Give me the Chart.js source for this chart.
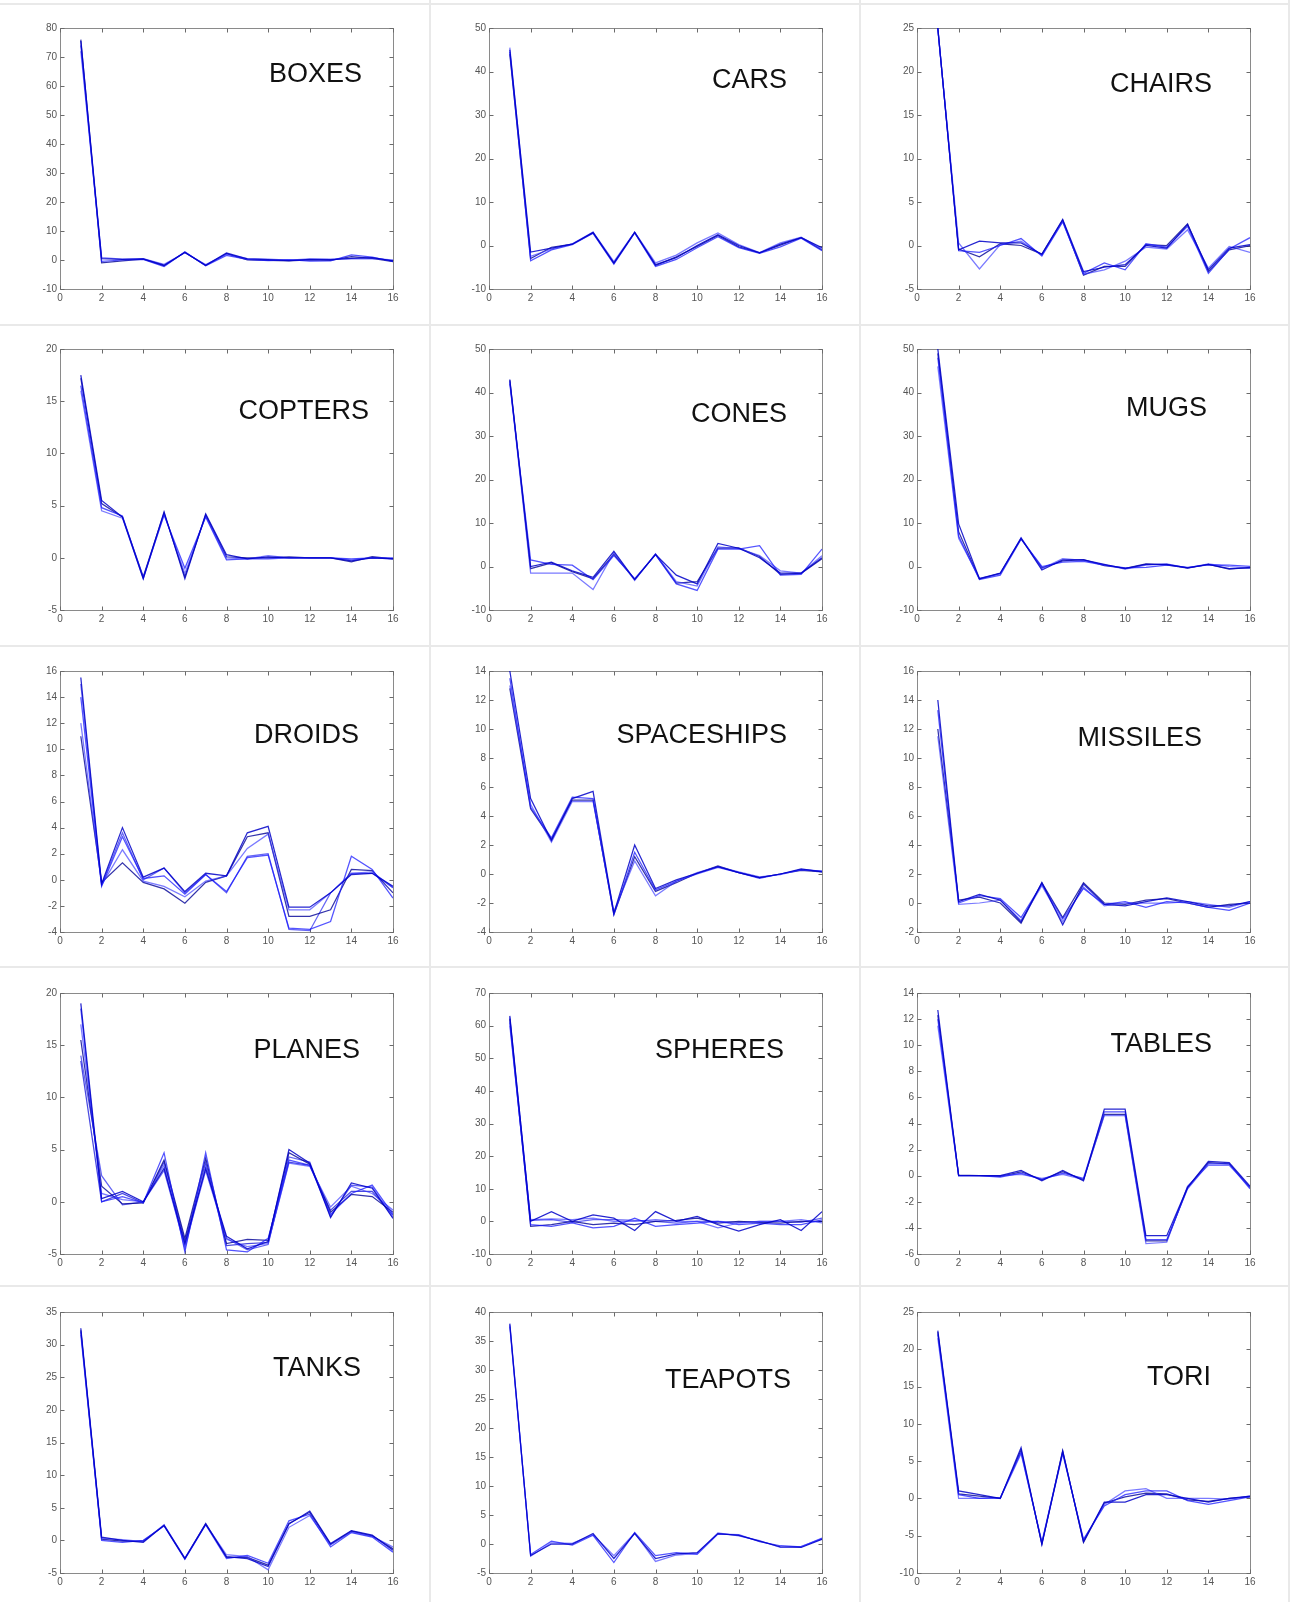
<!DOCTYPE html>
<html>
<head>
<meta charset="utf-8">
<script src="https://cdn.jsdelivr.net/npm/chart.js@4/dist/chart.umd.min.js"></script>
<style>
  html, body { margin: 0; padding: 0; background: #fff; }
  #page { position: relative; width: 1290px; height: 1602px; overflow: hidden; background: #fff; }
  .sep { position: absolute; background: #e9e9e9; }
</style>
</head>
<body>
<div id="page"></div>
<script>
// Coefficient index along the x axis and the axis tick values
const coeffIndex = [1, 2, 3, 4, 5, 6, 7, 8, 9, 10, 11, 12, 13, 14, 15, 16];
const xTickValues = [0, 2, 4, 6, 8, 10, 12, 14, 16];

// Shape classes, in panel order (row by row)
const categories = ['BOXES', 'CARS', 'CHAIRS', 'COPTERS', 'CONES', 'MUGS', 'DROIDS', 'SPACESHIPS',
  'MISSILES', 'PLANES', 'SPHERES', 'TABLES', 'TANKS', 'TEAPOTS', 'TORI'];

// y axis [min, max, step] per panel
const boxesY = [-10, 80, 10];
const carsY = [-10, 50, 10];
const chairsY = [-5, 25, 5];
const coptersY = [-5, 20, 5];
const conesY = [-10, 50, 10];
const mugsY = [-10, 50, 10];
const droidsY = [-4, 16, 2];
const spaceshipsY = [-4, 14, 2];
const missilesY = [-2, 16, 2];
const planesY = [-5, 20, 5];
const spheresY = [-10, 70, 10];
const tablesY = [-6, 14, 2];
const tanksY = [-5, 35, 5];
const teapotsY = [-5, 40, 5];
const toriY = [-10, 25, 5];

// Coefficient curves, one row per instance
const boxes = [
  [75.5, 0.5, 0.2, 0.4, -1.8, 2.6, -1.8, 2.4, 0.4, 0.1, -0.2, 0.2, 0.1, 0.6, 0.8, -0.3],
  [74.0, -0.5, 0.0, 0.2, -2.3, 2.8, -2.0, 1.6, 0.2, -0.2, 0.1, -0.4, -0.3, 1.8, 1.0, -0.5],
  [72.0, 0.8, 0.3, 0.5, -1.5, 2.5, -1.6, 2.0, 0.5, 0.3, 0.0, 0.4, 0.3, 0.4, 0.5, 0.0],
  [76.0, -1.0, -0.3, 0.3, -2.0, 2.7, -1.9, 2.2, 0.0, -0.1, -0.3, 0.0, -0.1, 1.2, 0.6, -0.6]
];
const cars = [
  [45.0, -1.5, -0.6, 0.3, 3.0, -4.0, 3.0, -4.4, -2.8, 0.0, 2.5, 0.0, -1.7, 0.3, 1.8, -0.5],
  [44.5, -3.5, -1.0, 0.2, 2.8, -4.3, 2.9, -4.8, -3.2, -0.5, 2.0, -0.5, -1.8, -0.3, 1.7, -1.2],
  [45.5, -2.5, -0.8, 0.4, 3.1, -3.7, 3.1, -4.0, -2.2, 0.6, 2.9, 0.2, -1.6, 0.6, 1.9, -0.8],
  [44.0, -3.0, -0.4, 0.3, 2.9, -4.1, 3.0, -4.6, -2.6, -0.2, 2.3, -0.3, -1.7, 0.1, 1.8, -1.0]
];
const chairs = [
  [25.0, -0.5, 0.5, 0.3, 0.3, -1.0, 3.0, -3.0, -2.5, -2.2, 0.0, -0.3, 2.4, -2.8, -0.3, 0.1],
  [25.0, -0.6, -0.8, 0.0, 0.8, -1.2, 2.7, -3.2, -2.0, -2.8, 0.2, -0.2, 2.2, -3.2, -0.4, 0.9],
  [24.8, 0.3, -2.7, 0.1, 0.5, -1.1, 2.8, -3.3, -2.8, -1.8, -0.2, -0.4, 1.8, -2.6, -0.1, -0.8],
  [25.0, -0.4, -1.3, 0.2, 0.0, -1.0, 2.9, -3.4, -2.4, -2.4, 0.1, 0.0, 2.5, -3.0, -0.5, 0.0]
];
const copters = [
  [17.5, 5.5, 3.9, -2.0, 4.4, -2.0, 4.2, 0.3, -0.1, 0.1, 0.0, 0.0, 0.0, -0.3, 0.0, -0.1],
  [16.5, 4.8, 4.0, -1.9, 4.1, -1.0, 3.9, -0.2, -0.1, -0.1, 0.0, 0.0, 0.0, -0.1, 0.0, 0.0],
  [16.0, 4.5, 3.8, -2.0, 4.2, -1.5, 4.0, 0.0, -0.1, 0.2, 0.0, 0.0, 0.0, -0.2, 0.0, -0.1],
  [17.2, 5.2, 3.9, -1.8, 4.3, -1.8, 4.1, 0.1, 0.0, 0.0, 0.1, 0.0, 0.0, -0.4, 0.1, -0.1]
];
const cones = [
  [43.0, 0.0, 1.0, -1.0, -2.5, 3.5, -3.0, 2.8, -2.0, -4.0, 5.3, 4.2, 2.0, -1.5, -1.5, 2.0],
  [42.0, 1.5, 0.5, 0.3, -3.0, 2.5, -2.8, 2.7, -4.0, -5.5, 4.0, 4.0, 4.8, -2.0, -1.8, 4.0],
  [42.5, -1.5, -1.5, -1.5, -5.3, 3.2, -3.2, 2.9, -3.5, -4.5, 4.5, 4.1, 2.5, -1.0, -1.5, 2.5],
  [42.8, -0.5, 0.8, -1.2, -2.8, 2.8, -3.0, 2.8, -3.8, -3.5, 4.2, 4.3, 2.3, -1.8, -1.6, 1.8]
];
const mugs = [
  [50.0, 9.8, -2.8, -1.5, 6.5, -0.8, 1.5, 1.5, 0.5, -0.5, 0.5, 0.5, -0.3, 0.5, -0.5, -0.3],
  [48.0, 7.0, -3.0, -2.0, 6.3, 0.0, 1.0, 1.2, 0.3, -0.3, -0.2, 0.3, -0.2, 0.4, 0.3, 0.0],
  [46.0, 6.5, -2.7, -1.7, 6.6, -0.5, 1.8, 1.4, 0.4, -0.6, 0.3, 0.6, -0.3, 0.6, 0.0, -0.4],
  [49.0, 8.0, -2.9, -1.6, 6.4, -0.3, 1.3, 1.6, 0.2, -0.4, 0.6, 0.4, -0.4, 0.5, -0.6, -0.2]
];
const droids = [
  [15.5, -0.3, 4.0, 0.2, 0.9, -0.9, 0.5, 0.3, 3.6, 4.1, -2.1, -2.1, -1.0, 0.4, 0.5, -0.5],
  [14.0, -0.5, 3.3, 0.1, 0.3, -1.1, 0.4, -0.9, 1.7, 1.9, -3.7, -3.8, -3.2, 1.8, 0.8, -1.4],
  [12.0, -0.4, 2.3, -0.1, -0.5, -1.3, -0.1, 0.3, 2.4, 3.5, -2.3, -2.3, -1.0, 0.5, 0.6, -0.6],
  [11.0, -0.2, 1.3, -0.2, -0.7, -1.8, -0.2, 0.3, 3.3, 3.6, -2.8, -2.8, -2.3, 0.8, 0.7, -1.0],
  [15.0, -0.4, 3.6, 0.0, 0.9, -1.0, 0.4, -1.0, 1.8, 2.0, -3.8, -3.9, -1.0, 0.5, 0.5, -0.6]
];
const spaceships = [
  [14.0, 5.2, 2.3, 5.2, 5.7, -2.7, 2.0, -1.0, -0.4, 0.05, 0.5, 0.1, -0.25, 0.0, 0.35, 0.15],
  [13.5, 4.6, 2.5, 5.3, 5.2, -2.8, 1.5, -1.1, -0.5, 0.0, 0.45, 0.1, -0.3, 0.0, 0.3, 0.2],
  [13.0, 4.8, 2.2, 5.0, 5.0, -2.6, 0.9, -1.5, -0.5, 0.1, 0.5, 0.15, -0.2, -0.05, 0.3, 0.2],
  [12.8, 4.5, 2.4, 5.1, 5.1, -2.8, 1.2, -1.2, -0.6, 0.05, 0.55, 0.1, -0.25, 0.0, 0.25, 0.15]
];
const missiles = [
  [14.0, 0.1, 0.6, 0.2, -1.3, 1.4, -1.5, 1.3, -0.1, -0.2, 0.1, 0.35, 0.1, -0.2, -0.2, 0.1],
  [13.3, 0.0, 0.5, 0.3, -1.0, 1.3, -1.1, 1.0, -0.1, 0.1, -0.3, 0.1, 0.0, -0.3, -0.5, 0.0],
  [11.5, -0.1, 0.0, 0.2, -1.2, 1.2, -1.3, 1.1, -0.2, 0.0, 0.0, 0.0, 0.1, -0.1, -0.3, 0.1],
  [12.0, 0.2, 0.4, 0.0, -1.4, 1.4, -1.0, 1.4, 0.0, -0.1, 0.2, 0.3, 0.0, -0.3, -0.1, 0.0]
];
const planes = [
  [19.0, 0.3, 1.0, 0.0, 3.2, -4.0, 3.2, -3.3, -4.5, -3.8, 5.0, 3.7, -1.5, 1.8, 1.3, -1.6],
  [18.5, 0.0, 0.5, -0.1, 4.7, -4.8, 4.7, -4.6, -4.8, -3.5, 4.0, 3.5, -1.2, 0.8, 1.6, -1.2],
  [17.0, 0.8, 0.2, 0.0, 3.5, -4.5, 3.5, -3.6, -4.3, -4.0, 3.7, 3.4, -0.5, 1.5, 0.8, -0.8],
  [15.5, 1.5, -0.2, -0.1, 4.0, -3.5, 4.2, -4.0, -3.6, -3.7, 4.7, 3.6, -1.0, 0.7, 0.5, -1.0],
  [14.0, 2.5, -0.3, 0.0, 3.0, -4.2, 3.0, -3.5, -4.6, -4.1, 4.3, 3.8, -1.4, 1.6, 1.4, -1.5],
  [13.5, 0.0, 0.8, -0.1, 3.8, -3.8, 3.8, -4.2, -4.0, -3.9, 3.8, 3.5, -0.8, 1.0, 1.0, -1.3]
];
const spheres = [
  [63.0, 0.0, 3.0, 0.0, 2.0, 1.0, -2.8, 3.0, 0.0, 1.5, -1.0, -3.0, -1.0, 0.5, -2.8, 3.0],
  [61.0, -1.0, -1.5, -0.5, -2.0, -1.5, 1.0, -1.5, -1.0, -0.5, 0.0, -1.0, -0.5, -1.0, -1.0, 0.5],
  [60.0, 0.5, 0.8, 0.5, 1.0, 0.0, 0.0, 0.5, 0.0, 0.0, -2.0, -0.5, 0.0, 0.0, 0.5, -0.5],
  [62.0, -1.5, -1.0, 0.0, -1.0, -0.5, -1.0, 0.0, 0.3, 1.0, -0.5, 0.0, -0.3, -0.5, 0.0, 0.0],
  [62.5, 0.3, 0.5, -0.3, 0.5, 0.5, 0.3, 0.0, -0.5, 0.0, 0.0, -0.3, 0.0, 0.0, -0.3, 1.0]
];
const tables = [
  [12.7, 0.0, 0.0, 0.0, 0.4, -0.4, 0.4, -0.4, 5.1, 5.1, -4.6, -4.6, -0.9, 1.1, 1.0, -0.8],
  [12.0, 0.0, 0.0, -0.1, 0.2, -0.3, 0.2, -0.2, 4.9, 4.9, -4.9, -4.9, -1.0, 0.9, 0.9, -1.0],
  [11.5, 0.0, 0.0, 0.0, 0.1, -0.2, 0.1, -0.3, 4.6, 4.6, -5.2, -5.1, -0.8, 0.8, 0.8, -0.9],
  [12.3, 0.05, 0.0, -0.05, 0.3, -0.3, 0.3, -0.3, 4.7, 4.7, -5.0, -5.0, -0.9, 1.0, 0.9, -0.9]
];
const tanks = [
  [32.5, 0.5, 0.0, -0.3, 2.3, -2.8, 2.5, -2.5, -2.8, -4.0, 2.5, 4.5, -0.5, 1.5, 0.8, -1.5],
  [32.0, 0.0, -0.3, 0.0, 2.2, -2.9, 2.4, -2.8, -2.3, -3.5, 3.0, 4.0, -1.0, 1.2, 0.5, -1.8],
  [31.5, 0.3, 0.1, -0.2, 2.4, -2.7, 2.5, -2.2, -2.5, -4.5, 2.0, 3.8, -0.7, 1.3, 0.6, -1.0],
  [32.2, 0.2, -0.1, -0.1, 2.3, -2.8, 2.6, -2.6, -2.6, -3.8, 2.6, 4.3, -0.6, 1.4, 0.7, -1.3]
];
const teapots = [
  [38.0, -2.0, 0.0, 0.0, 1.8, -2.5, 1.8, -2.5, -1.7, -1.5, 1.8, 1.5, 0.5, -0.5, -0.6, 0.8],
  [37.5, -1.8, 0.5, -0.2, 1.5, -3.2, 2.0, -2.0, -1.5, -1.8, 1.7, 1.6, 0.4, -0.3, -0.5, 1.0],
  [37.8, -2.1, 0.2, 0.1, 1.6, -2.0, 1.9, -3.0, -1.9, -1.6, 1.9, 1.4, 0.6, -0.6, -0.4, 0.9]
];
const tori = [
  [22.5, 1.0, 0.5, 0.0, 6.8, -6.2, 6.3, -5.8, -0.5, -0.5, 0.5, 0.5, 0.0, -0.5, 0.0, 0.3],
  [22.0, 0.5, 0.0, 0.1, 6.2, -6.0, 6.0, -5.5, -1.0, 0.5, 1.0, 1.0, -0.3, -0.8, -0.3, 0.2],
  [21.5, 0.0, 0.0, 0.0, 6.0, -5.8, 6.2, -5.6, -0.8, 1.0, 1.3, 0.0, 0.0, 0.0, -0.1, 0.3],
  [22.3, 0.6, 0.3, 0.0, 6.5, -6.1, 6.4, -5.9, -0.6, 0.2, 0.7, 0.6, -0.2, -0.4, 0.0, 0.2]
];

const panelRuns = [boxes, cars, chairs, copters, cones, mugs, droids, spaceships,
  missiles, planes, spheres, tables, tanks, teapots, tori];
const panelRanges = [boxesY, carsY, chairsY, coptersY, conesY, mugsY, droidsY, spaceshipsY,
  missilesY, planesY, spheresY, tablesY, tanksY, teapotsY, toriY];

// ---- layout and styling ----
const CELL_W = 430, CANVAS_H = 318;
const rowTops = [0, 321, 643, 965, 1284];
const plotLeft = [60, 59, 57];
const plotRight = [393, 392, 390];
const PLOT_TOP = 28, PLOT_BOTTOM = 289;
// right edge / vertical centre of each panel's name, in panel pixels
const nameAnchor = [
  [362, 75], [357, 81], [352, 85],
  [369, 91], [357, 94], [347, 88],
  [359, 93], [357, 93], [342, 96],
  [360, 86], [354, 86], [352, 80],
  [361, 85], [361, 97], [351, 94]
];
const lineColors = ['rgba(0,0,200,0.85)', 'rgba(25,25,255,0.75)', 'rgba(50,50,255,0.65)',
  'rgba(0,0,150,0.8)', 'rgba(35,35,240,0.7)', 'rgba(15,15,215,0.75)'];
const FONT = '"Liberation Sans", Arial, Helvetica, sans-serif';
Chart.defaults.font.family = FONT;

const page = document.getElementById('page');

// light separators between the panels
[[0, 3, 1290, 2], [0, 324, 1290, 2], [0, 645, 1290, 2], [0, 966, 1290, 2], [0, 1285, 1290, 2],
 [429, 0, 2, 1602], [859, 0, 2, 1602], [1288, 0, 2, 1602]].forEach(([l, t, w, h]) => {
  const d = document.createElement('div');
  d.className = 'sep';
  d.style.cssText = `left:${l}px;top:${t}px;width:${w}px;height:${h}px`;
  page.appendChild(d);
});

// Boxed axes with inward ticks on all four sides, plus the panel name
const framePlugin = {
  id: 'frame',
  beforeDatasetsDraw(chart) {
    const { ctx, chartArea: a, scales: { x, y } } = chart;
    const L = Math.round(a.left) + 0.5, R = Math.round(a.right) + 0.5;
    const T = Math.round(a.top) + 0.5, B = Math.round(a.bottom) + 0.5;
    ctx.save();
    ctx.strokeStyle = '#8a8a8a';
    ctx.lineWidth = 1;
    ctx.strokeRect(L, T, R - L, B - T);
    ctx.strokeStyle = '#6a6a6a';
    ctx.beginPath();
    const tl = 4;
    x.ticks.forEach(t => {
      const px = Math.round(x.getPixelForValue(t.value)) + 0.5;
      ctx.moveTo(px, B); ctx.lineTo(px, B - tl);
      ctx.moveTo(px, T); ctx.lineTo(px, T + tl);
    });
    y.ticks.forEach(t => {
      const py = Math.round(y.getPixelForValue(t.value)) + 0.5;
      ctx.moveTo(L, py); ctx.lineTo(L + tl, py);
      ctx.moveTo(R, py); ctx.lineTo(R - tl, py);
    });
    ctx.stroke();
    ctx.restore();
  },
  afterDraw(chart, args, opts) {
    const ctx = chart.ctx;
    ctx.save();
    ctx.fillStyle = '#111';
    ctx.font = '27px ' + FONT;
    ctx.textAlign = 'right';
    ctx.textBaseline = 'middle';
    ctx.fillText(opts.title, opts.tx, opts.ty);
    ctx.restore();
  }
};

const tickFont = { size: 10, family: FONT };
const tickColor = '#555';

categories.forEach((name, i) => {
  const col = i % 3, row = Math.floor(i / 3);
  const canvas = document.createElement('canvas');
  canvas.width = CELL_W;
  canvas.height = CANVAS_H;
  canvas.style.cssText = `position:absolute;left:${col * CELL_W}px;top:${rowTops[row]}px;width:${CELL_W}px;height:${CANVAS_H}px`;
  page.appendChild(canvas);

  const [ymin, ymax, ystep] = panelRanges[i];
  const datasets = panelRuns[i].map((vals, k) => ({
    data: vals.map((v, j) => ({ x: coeffIndex[j], y: v })),
    borderColor: lineColors[k % lineColors.length],
    borderWidth: 1.25,
    pointRadius: 0,
    tension: 0,
    fill: false
  }));

  new Chart(canvas, {
    type: 'line',
    data: { datasets },
    options: {
      responsive: false,
      animation: false,
      events: [],
      devicePixelRatio: 1,
      layout: { padding: { left: 0, right: CELL_W - plotRight[col], top: PLOT_TOP, bottom: 0 } },
      plugins: {
        legend: { display: false },
        tooltip: { enabled: false },
        frame: { title: name, tx: nameAnchor[i][0], ty: nameAnchor[i][1] }
      },
      scales: {
        x: {
          type: 'linear', min: xTickValues[0], max: xTickValues[xTickValues.length - 1],
          afterBuildTicks: s => { s.ticks = xTickValues.map(v => ({ value: v })); },
          ticks: { autoSkip: false, maxRotation: 0, padding: 3, color: tickColor, font: tickFont },
          grid: { display: false, drawTicks: false },
          border: { display: false },
          afterFit: s => { s.height = CANVAS_H - PLOT_BOTTOM; }
        },
        y: {
          type: 'linear', min: ymin, max: ymax,
          ticks: { stepSize: ystep, autoSkip: false, padding: 3, color: tickColor, font: tickFont },
          grid: { display: false, drawTicks: false },
          border: { display: false },
          afterFit: s => { s.width = plotLeft[col]; }
        }
      }
    },
    plugins: [framePlugin]
  });
});
</script>
</body>
</html>
